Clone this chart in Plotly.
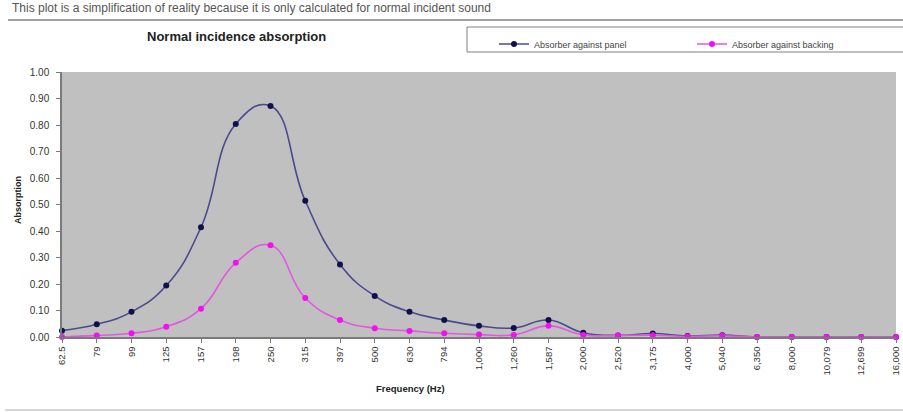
import plotly.graph_objects as go

# Third-octave band centre frequencies (Hz) and their axis labels
freq_labels = ["62.5", "79", "99", "125", "157", "198", "250", "315", "397", "500",
               "630", "794", "1,000", "1,260", "1,587", "2,000", "2,520", "3,175",
               "4,000", "5,040", "6,350", "8,000", "10,079", "12,699", "16,000"]

# Normal incidence absorption coefficients
absorber_panel = [0.024, 0.048, 0.095, 0.194, 0.414, 0.804, 0.872, 0.514, 0.274, 0.155,
                  0.095, 0.064, 0.042, 0.034, 0.064, 0.016, 0.006, 0.013,
                  0.004, 0.007, 0.0, 0.0, 0.0, 0.0, 0.0]
absorber_backing = [0.0, 0.006, 0.014, 0.039, 0.107, 0.280, 0.346, 0.147, 0.064, 0.033,
                    0.023, 0.014, 0.009, 0.008, 0.042, 0.008, 0.006, 0.007,
                    0.002, 0.005, 0.0, 0.0, 0.0, 0.0, 0.0]

y_ticks = [i / 10 for i in range(11)]

W, H = 903, 412
L, R, T, B = 62, 7, 72, 75
pw, ph = W - L - R, H - T - B


def px_x(x):
    return (x - L) / pw


def px_y(y):
    return (H - B - y) / ph


idx = list(range(len(freq_labels)))
font = "Liberation Sans, Arial, sans-serif"

fig = go.Figure()
fig.add_trace(go.Scatter(
    x=idx, y=absorber_panel, name="Absorber against panel",
    mode="lines+markers", line=dict(color="#4a4a8e", width=1.6, shape="spline", smoothing=1.3),
    marker=dict(color="#10104e", size=6), cliponaxis=False))
fig.add_trace(go.Scatter(
    x=idx, y=absorber_backing, name="Absorber against backing",
    mode="lines+markers", line=dict(color="#e05ae0", width=1.6, shape="spline", smoothing=1.3),
    marker=dict(color="#f010f0", size=6), cliponaxis=False))

fig.update_layout(
    width=W, height=H,
    margin=dict(l=L, r=R, t=T, b=B, autoexpand=False),
    paper_bgcolor="white", plot_bgcolor="#c0c0c0",
    font=dict(family=font, size=9, color="#333333"),
    showlegend=True,
    legend=dict(orientation="h", x=px_x(494), y=px_y(29.5), xanchor="left", yanchor="top",
                bgcolor="rgba(0,0,0,0)", borderwidth=0, entrywidth=153,
                entrywidthmode="pixels", font=dict(size=9, color="#444444"),
                itemclick=False),
    xaxis=dict(range=[0, len(freq_labels) - 1], tickmode="array", tickvals=idx,
               ticktext=freq_labels, tickangle=-90, showgrid=False, zeroline=False,
               showline=True, linecolor="#7a7a7a", linewidth=1.5,
               ticks="outside", ticklen=4, tickcolor="#7a7a7a",
               ticklabeloverflow="allow",
               tickfont=dict(size=9.5, color="#333333")),
    yaxis=dict(range=[0, 1], tickmode="array", tickvals=y_ticks,
               ticktext=[f"{v:.2f}" for v in y_ticks], showgrid=False, zeroline=False,
               showline=True, linecolor="#7a7a7a", linewidth=1.5,
               ticks="outside", ticklen=4, tickcolor="#7a7a7a", ticklabelstandoff=5,
               tickfont=dict(size=10, color="#333333")),
)

# Legend frame, separator rules
fig.add_shape(type="rect", xref="paper", yref="paper",
              x0=px_x(467), x1=px_x(910), y0=px_y(52), y1=px_y(27),
              line=dict(color="#808080", width=1), fillcolor="white", layer="below")
fig.add_shape(type="line", xref="paper", yref="paper",
              x0=px_x(8), x1=px_x(903), y0=px_y(20), y1=px_y(20),
              line=dict(color="#a0a0a0", width=2))
fig.add_shape(type="line", xref="paper", yref="paper",
              x0=px_x(5), x1=px_x(903), y0=px_y(410), y1=px_y(410),
              line=dict(color="#c8c8c8", width=1.5))

fig.add_annotation(text="This plot is a simplification of reality because it is only calculated for normal incident sound",
                   xref="paper", yref="paper", x=px_x(10), y=px_y(8),
                   xanchor="left", yanchor="middle", showarrow=False,
                   font=dict(size=12, color="#555555"))
fig.add_annotation(text="<b>Normal incidence absorption</b>",
                   xref="paper", yref="paper", x=px_x(236), y=px_y(36),
                   xanchor="center", yanchor="middle", showarrow=False,
                   font=dict(size=13, color="#222222"))
fig.add_annotation(text="<b>Absorption</b>",
                   xref="paper", yref="paper", x=px_x(18), y=px_y(200),
                   xanchor="center", yanchor="middle", showarrow=False, textangle=-90,
                   font=dict(size=9, color="#222222"))
fig.add_annotation(text="<b>Frequency (Hz)</b>",
                   xref="paper", yref="paper", x=px_x(410), y=px_y(388),
                   xanchor="center", yanchor="middle", showarrow=False,
                   font=dict(size=9.5, color="#222222"))

fig.write_html("out.html")
